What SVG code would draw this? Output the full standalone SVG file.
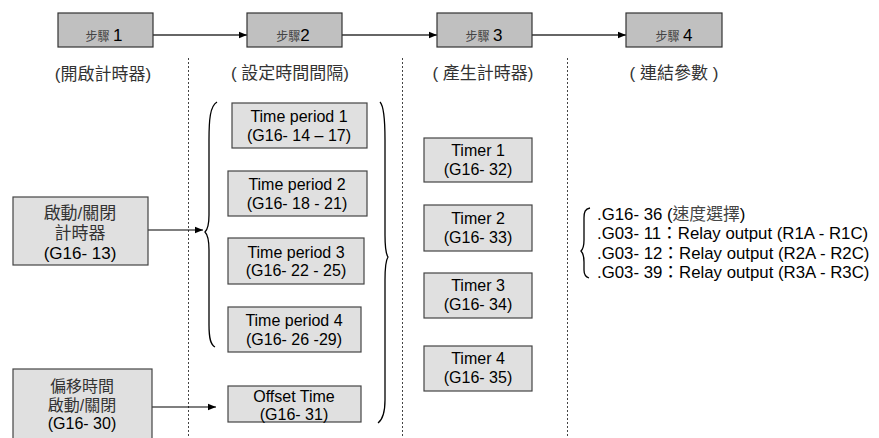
<svg xmlns="http://www.w3.org/2000/svg" width="879" height="438" viewBox="0 0 879 438">
<defs>
<marker id="ah" viewBox="0 0 10 10" refX="10" refY="5" markerWidth="8" markerHeight="8" markerUnits="userSpaceOnUse" orient="auto"><path d="M0,1 L10,5 L0,9 z" fill="#000"/></marker>
</defs>
<style>
.step{fill:#c0c0c0;stroke:#333;stroke-width:1.2}
.box{fill:#e0e0e0;stroke:#444;stroke-width:1.2}
.t{font-family:"Liberation Sans","Noto Sans CJK TC",sans-serif;font-size:16px;fill:#000;text-anchor:middle}
.cj{font-family:"Liberation Sans","Noto Sans CJK TC",sans-serif;font-size:17px;fill:#333;text-anchor:middle}
.cs{font-size:16px}
.sc{font-size:12px;fill:#444}
.sn{font-size:17px;fill:#000}
.lt{font-family:"Liberation Sans","Noto Sans CJK TC",sans-serif;font-size:16.8px;fill:#000}
.dash{stroke:#444;stroke-width:1;stroke-dasharray:2,2;fill:none}
.con{stroke:#000;stroke-width:1.2;fill:none;marker-end:url(#ah)}
.stepcon{stroke:#333;stroke-width:1.3;fill:none;marker-end:url(#ah)}
.brace{stroke:#000;stroke-width:1.3;fill:none}
</style>
<rect width="879" height="438" fill="#fff"/>
<g id="dividers">
<line class="dash" x1="188.5" y1="58" x2="188.5" y2="438"/>
<line class="dash" x1="402.5" y1="58" x2="402.5" y2="438"/>
<line class="dash" x1="567.5" y1="58" x2="567.5" y2="438"/>
</g>
<g id="connectors">
<line class="stepcon" x1="153" y1="35" x2="247" y2="35"/>
<line class="stepcon" x1="342" y1="35" x2="437" y2="35"/>
<line class="stepcon" x1="532" y1="35" x2="626" y2="35"/>
<line class="con" x1="148" y1="230" x2="203" y2="230"/>
<line class="con" x1="152" y1="407" x2="216" y2="407"/>
</g>
<g id="step1"><rect class="step" x="58" y="13" width="95" height="34"/><text class="cj" x="104" y="41"><tspan class="sc">步驟 </tspan><tspan class="sn">1</tspan></text><text class="cj" x="103" y="80">(開啟計時器)</text></g>
<g id="step2"><rect class="step" x="247" y="13" width="95" height="34"/><text class="cj" x="293" y="41"><tspan class="sc">步驟</tspan><tspan class="sn">2</tspan></text><text class="cj" x="290" y="79">( 設定時間間隔)</text></g>
<g id="step3"><rect class="step" x="437" y="13" width="95" height="34"/><text class="cj" x="484" y="41"><tspan class="sc">步驟 </tspan><tspan class="sn">3</tspan></text><text class="cj" x="483" y="79">( 產生計時器)</text></g>
<g id="step4"><rect class="step" x="626" y="13" width="96" height="34"/><text class="cj" x="674" y="41"><tspan class="sc">步驟 </tspan><tspan class="sn">4</tspan></text><text class="cj" x="674" y="79">( 連結參數 )</text></g>
<g id="enable"><rect class="box" x="13" y="197" width="135" height="68"/><text class="cj" x="80" y="219">啟動/關閉</text><text class="cj" x="80" y="239">計時器</text><text class="t" x="80" y="259" style="font-size:17px">(G16- 13)</text></g>
<g id="offsetEnable"><rect class="box" x="13" y="369" width="139" height="75"/><text class="cj cs" x="82" y="392">偏移時間</text><text class="cj cs" x="82" y="410.5">啟動/關閉</text><text class="t" x="82" y="429">(G16- 30)</text></g>
<g id="tp1"><rect class="box" x="232" y="103" width="135" height="45"/><text class="t" x="299" y="122">Time period 1</text><text class="t" x="299" y="140.5">(G16- 14 – 17)</text></g>
<g id="tp2"><rect class="box" x="228" y="171" width="139" height="45"/><text class="t" x="297" y="190">Time period 2</text><text class="t" x="297" y="208.5">(G16- 18 - 21)</text></g>
<g id="tp3"><rect class="box" x="228" y="238" width="136" height="46"/><text class="t" x="296" y="257.5">Time period 3</text><text class="t" x="296" y="276">(G16- 22 - 25)</text></g>
<g id="tp4"><rect class="box" x="228" y="307" width="133" height="45"/><text class="t" x="294" y="326">Time period 4</text><text class="t" x="294" y="344.5">(G16- 26 -29)</text></g>
<g id="offset"><rect class="box" x="228" y="386" width="133" height="36"/><text class="t" x="294" y="401.5">Offset Time</text><text class="t" x="294" y="419.5">(G16- 31)</text></g>
<g id="timer1"><rect class="box" x="424" y="138" width="108" height="44"/><text class="t" x="478" y="156">Timer 1</text><text class="t" x="478" y="175">(G16- 32)</text></g>
<g id="timer2"><rect class="box" x="424" y="205" width="108" height="46"/><text class="t" x="478" y="224">Timer 2</text><text class="t" x="478" y="243">(G16- 33)</text></g>
<g id="timer3"><rect class="box" x="424" y="273" width="108" height="45"/><text class="t" x="478" y="291">Timer 3</text><text class="t" x="478" y="310">(G16- 34)</text></g>
<g id="timer4"><rect class="box" x="424" y="346" width="108" height="45"/><text class="t" x="478" y="364">Timer 4</text><text class="t" x="478" y="383">(G16- 35)</text></g>
<g id="braces">
<path class="brace" d="M217,102 C210,106 209,120 209,140 L209,215 C209,226 207,230 205,232 C207,234 209,238 209,250 L209,325 C209,340 211,345 215,347"/>
<path class="brace" d="M380,102 C384,106 385,120 385,140 L385,235 C385,250 386,254 388,257 C386,260 385,265 385,280 L385,400 C385,415 382,420 378,423"/>
<path class="brace" d="M590,208 C585,209 584,212 584,218 L584,240 C584,246 583,249 581,251 C583,253 584,256 584,262 L584,270 C584,275 586,277 589,278"/>
</g>
<g id="params">
<text class="lt" x="597" y="219.5">.G16- 36 (<tspan fill="#444">速度選擇</tspan>)</text>
<text class="lt" x="597" y="239">.G03- 11：Relay output (R1A - R1C)</text>
<text class="lt" x="597" y="258.5">.G03- 12：Relay output (R2A - R2C)</text>
<text class="lt" x="597" y="278">.G03- 39：Relay output (R3A - R3C)</text>
</g>
</svg>
